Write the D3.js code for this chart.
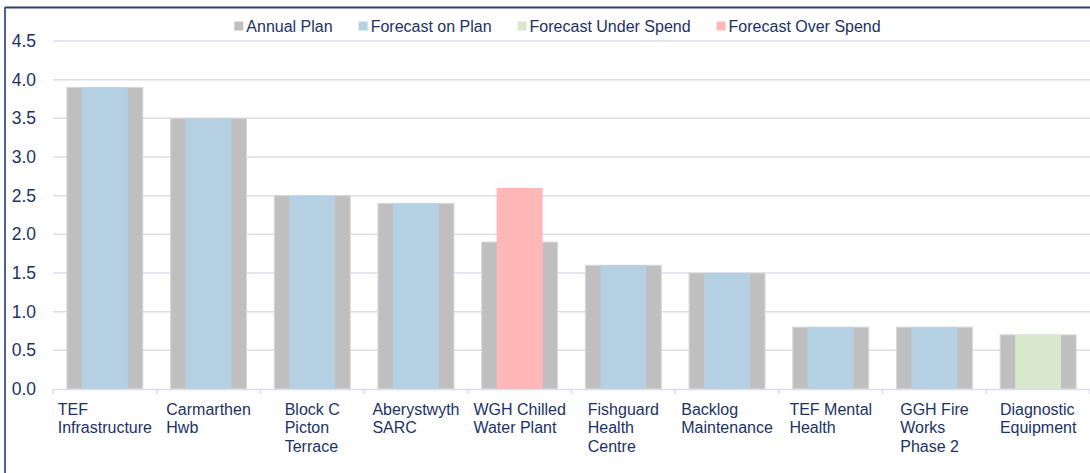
<!DOCTYPE html>
<html>
<head>
<meta charset="utf-8">
<script src="https://cdn.jsdelivr.net/npm/d3@7/dist/d3.min.js"></script>
<style>
  html, body { margin: 0; padding: 0; background: #fff; }
  svg { display: block; font-family: "Liberation Sans", Arial, sans-serif; }
</style>
</head>
<body>
<svg id="chart" width="1090" height="473"></svg>
<script>
// Capital projects: annual plan vs forecast (£m)
const categories = [
  ["TEF", "Infrastructure"],
  ["Carmarthen", "Hwb"],
  ["Block C", "Picton", "Terrace"],
  ["Aberystwyth", "SARC"],
  ["WGH Chilled", "Water Plant"],
  ["Fishguard", "Health", "Centre"],
  ["Backlog", "Maintenance"],
  ["TEF Mental", "Health"],
  ["GGH Fire", "Works", "Phase 2"],
  ["Diagnostic", "Equipment"]
];
const annualPlan        = [3.9, 3.5, 2.5, 2.4, 1.9, 1.6, 1.5, 0.8, 0.8, 0.7];
const forecastOnPlan    = [3.9, 3.5, 2.5, 2.4, null, 1.6, 1.5, 0.8, 0.8, null];
const forecastUnder     = [null, null, null, null, null, null, null, null, null, 0.7];
const forecastOver      = [null, null, null, null, 2.6, null, null, null, null, null];
const yTicks = [0, 0.5, 1.0, 1.5, 2.0, 2.5, 3.0, 3.5, 4.0, 4.5];
const legendItems = ["Annual Plan", "Forecast on Plan", "Forecast Under Spend", "Forecast Over Spend"];

const colors = {
  "Annual Plan": "#bfbfbf",
  "Forecast on Plan": "#b6d0e3",
  "Forecast Under Spend": "#d7e8cd",
  "Forecast Over Spend": "#ffb7b7"
};
const textColor = "#1c3264";
const gridColor = "#dcdcea";

const svg = d3.select("#chart");
const W = 1090, H = 473;
const margin = { left: 53, right: 0 };
const x0 = margin.left, x1 = W - margin.right;
const yBottom = 389, yTop = 41;

// frame lines (top and left)
svg.append("line").attr("x1", 5).attr("x2", W).attr("y1", 7.5).attr("y2", 7.5)
  .attr("stroke", "#2f3d68").attr("stroke-width", 2);
svg.append("line").attr("x1", 5).attr("x2", 5).attr("y1", 7).attr("y2", H)
  .attr("stroke", "#4f5f8f").attr("stroke-width", 2);

const x = d3.scaleBand().domain(d3.range(categories.length)).range([x0, x1]).padding(0);
const y = d3.scaleLinear().domain([0, 4.5]).range([yBottom, yTop]);

// gridlines
svg.append("g").selectAll("line").data(yTicks.filter(t => t > 0)).join("line")
  .attr("x1", x0).attr("x2", x1)
  .attr("y1", d => y(d)).attr("y2", d => y(d))
  .attr("stroke", gridColor).attr("stroke-width", 1.5);

// y axis labels
const yAxis = d3.axisLeft(y).tickValues(yTicks).tickFormat(d3.format(".1f")).tickSize(0).tickPadding(17);
const yg = svg.append("g").attr("transform", `translate(${x0},0)`).call(yAxis);
yg.select(".domain").remove();
yg.selectAll("text").attr("fill", textColor).style("font-size", "17.5px")
  .style("font-family", "'Liberation Sans', Arial, sans-serif");

// bars
const bw = x.bandwidth();
const outerW = 76, innerW = 46;
const idx = d3.range(categories.length);

svg.append("g").selectAll("rect").data(idx).join("rect")
  .attr("x", i => x(i) + bw / 2 - outerW / 2)
  .attr("width", outerW)
  .attr("y", i => y(annualPlan[i]))
  .attr("height", i => y(0) - y(annualPlan[i]))
  .attr("fill", colors["Annual Plan"])
  .attr("stroke", "#d9d9d9").attr("stroke-width", 1);

const inner = [
  [forecastOnPlan, "Forecast on Plan"],
  [forecastUnder, "Forecast Under Spend"],
  [forecastOver, "Forecast Over Spend"]
];
inner.forEach(([vals, name]) => {
  svg.append("g").selectAll("rect").data(idx.filter(i => vals[i] != null)).join("rect")
    .attr("x", i => x(i) + bw / 2 - innerW / 2)
    .attr("width", innerW)
    .attr("y", i => y(vals[i]))
    .attr("height", i => y(0) - y(vals[i]))
    .attr("fill", colors[name]);
});

// x axis line and ticks at band boundaries
svg.append("line").attr("x1", x0).attr("x2", x1).attr("y1", yBottom + 0.5).attr("y2", yBottom + 0.5)
  .attr("stroke", gridColor).attr("stroke-width", 1.5);
svg.append("g").selectAll("line").data(d3.range(categories.length + 1)).join("line")
  .attr("x1", i => x0 + i * bw).attr("x2", i => x0 + i * bw)
  .attr("y1", yBottom).attr("y2", yBottom + 5)
  .attr("stroke", gridColor).attr("stroke-width", 1.5);

// category labels: left-aligned lines, block centred under each band
const lab = svg.append("g");
categories.forEach((lines, i) => {
  const t = lab.append("text")
    .attr("fill", textColor).style("font-size", "16px");
  const spans = lines.map((ln, k) =>
    t.append("tspan").attr("y", 414.5 + k * 18.5).text(ln));
  const maxW = d3.max(spans, s => s.node().getComputedTextLength());
  const left = x(i) + bw / 2 - maxW / 2;
  spans.forEach(s => s.attr("x", left));
});

// legend
const lg = svg.append("g");
const gap = 26;
let cx = 0;
legendItems.forEach(name => {
  const g = lg.append("g").attr("transform", `translate(${cx},0)`);
  g.append("rect").attr("x", 0).attr("y", 21.5).attr("width", 9).attr("height", 9).attr("fill", colors[name]);
  const t = g.append("text").attr("x", 12).attr("y", 31.5).attr("fill", textColor)
    .style("font-size", "16px").text(name);
  const w = t.node().getComputedTextLength();
  cx += 12 + w + gap;
});
const totalW = cx - gap;
lg.attr("transform", `translate(${557.5 - totalW / 2},0)`);
</script>
</body>
</html>
